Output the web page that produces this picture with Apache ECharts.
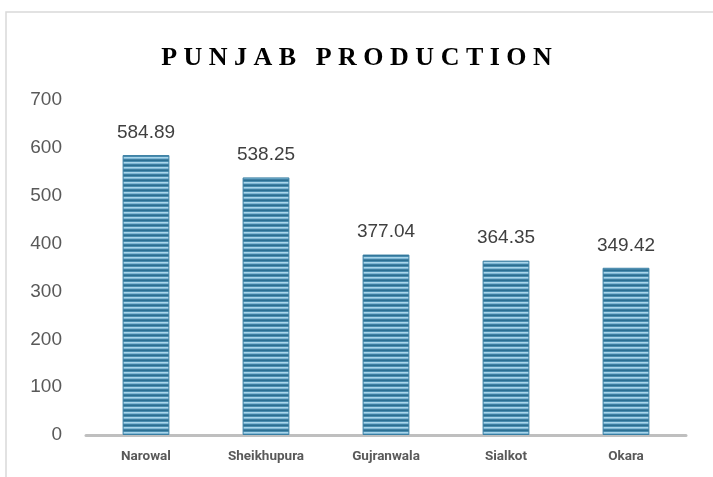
<!DOCTYPE html>
<html>
<head>
<meta charset="utf-8">
<script src="https://cdn.jsdelivr.net/npm/echarts@6/dist/echarts.min.js"></script>
<style>
  html, body { margin: 0; padding: 0; background: #fff; }
  #chart { width: 713px; height: 477px; }
</style>
</head>
<body>
<div id="chart"></div>
<script>
const districts = ['Narowal', 'Sheikhupura', 'Gujranwala', 'Sialkot', 'Okara'];
const production = [584.89, 538.25, 377.04, 364.35, 349.42];

// striped fill for the bars
function stripePattern() {
  const c = document.createElement('canvas');
  c.width = 4;
  c.height = 5;
  const ctx = c.getContext('2d');
  const rows = ['#2b6f92', '#4a8db0', '#a9d5ea', '#7fb8d6', '#3f7fa2'];
  rows.forEach((col, i) => {
    ctx.fillStyle = col;
    ctx.fillRect(0, i, 4, 1);
  });
  return c;
}

const myChart = echarts.init(document.getElementById('chart'));

const option = {
  animation: false,
  graphic: [
    {
      type: 'rect',
      shape: { x: 6, y: 12, width: 760, height: 520 },
      style: { fill: 'none', stroke: '#d9d9d9', lineWidth: 1.5 },
      silent: true
    }
  ],
  title: {
    text: 'P U N J A B   P R O D U C T I O N',
    left: 'center',
    top: 40,
    textStyle: {
      fontFamily: 'Liberation Serif',
      fontWeight: 'bold',
      fontSize: 26,
      color: '#000'
    }
  },
  grid: {
    left: 86,
    right: 27,
    top: 100,
    bottom: 42
  },
  xAxis: {
    type: 'category',
    data: districts,
    axisTick: { show: false },
    axisLine: { lineStyle: { color: '#bfbfbf', width: 3 } },
    axisLabel: {
      color: '#595959',
      fontWeight: 'bold',
      fontSize: 13.5,
      fontFamily: 'Roboto',
      margin: 15
    }
  },
  yAxis: {
    type: 'value',
    min: 0,
    max: 700,
    interval: 100,
    splitLine: { show: false },
    axisLine: { show: false },
    axisTick: { show: false },
    axisLabel: {
      color: '#595959',
      fontSize: 19,
      fontFamily: 'Liberation Sans',
      margin: 24
    }
  },
  series: [
    {
      type: 'bar',
      data: production,
      barWidth: '39%',
      itemStyle: {
        color: { image: stripePattern(), repeat: 'repeat' },
        borderColor: '#3a7fa3',
        borderWidth: 1
      },
      label: {
        show: true,
        position: 'top',
        distance: 13,
        color: '#404040',
        fontSize: 19,
        fontFamily: 'Liberation Sans',
        formatter: (p) => p.value.toFixed(2)
      }
    }
  ]
};

myChart.setOption(option);
</script>
</body>
</html>
